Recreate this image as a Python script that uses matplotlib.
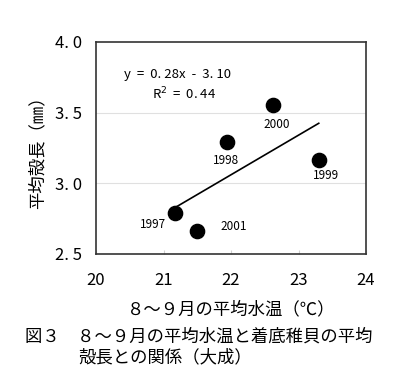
import matplotlib
matplotlib.use('Agg')
import matplotlib.pyplot as plt
import numpy as np

plt.rcParams['font.family'] = ['Noto Sans CJK JP', 'DejaVu Sans']

years = ['1997', '2001', '1998', '2000', '1999']
temp = [21.17, 21.49, 21.94, 22.62, 23.30]
shell = [2.79, 2.665, 3.29, 3.55, 3.165]
slope = 0.28
icpt = -3.10
xticks = [20, 21, 22, 23, 24]
yticks = [2.5, 3.0, 3.5, 4.0]
ytick_labels = ['2. 5', '3. 0', '3. 5', '4. 0']

# label offsets in points (dx, dy)
offs = {'1997': (-16, -8.5), '2001': (27, 2.7), '1998': (-1, -13),
        '2000': (3, -13.7), '1999': (5, -11)}

fig = plt.figure(figsize=(4, 3.67), dpi=100)
ax = fig.add_axes([0.24, 0.308, 0.675, 0.578])

for y in [3.0, 3.5]:
    ax.axhline(y, color='#e0e0e0', lw=0.8, zorder=0)

ax.scatter(temp, shell, s=105, color='black', zorder=3)
xl = np.array([min(temp), max(temp)])
ax.plot(xl, slope * xl + icpt, color='black', lw=1.2, zorder=2)

for yr, x, y in zip(years, temp, shell):
    dx, dy = offs[yr]
    ax.annotate(yr, (x, y), xytext=(dx, dy), textcoords='offset points',
                ha='center', va='center', fontsize=8.5)

fig.text(0.31, 0.796, 'y  =  0. 28x  -  3. 10', fontsize=9.5,
         ha='left', va='center')
fig.text(0.38, 0.744, 'R$^2$  =  0. 44', fontsize=9.5,
         ha='left', va='center')

ax.set_xlim(20, 24)
ax.set_ylim(2.5, 4.0)
ax.set_xticks(xticks)
ax.set_yticks(yticks)
ax.set_yticklabels(ytick_labels)
ax.tick_params(axis='x', direction='in', length=3, color='#d0d0d0',
               labelsize=12, pad=13)
ax.tick_params(axis='y', length=0, labelsize=12, pad=10)
for s in ax.spines.values():
    s.set_linewidth(1.2)
    s.set_color('#333333')

ax.set_ylabel('平均殻長（㎜）', fontsize=12.5, labelpad=6)
ax.set_xlabel('８～９月の平均水温（℃）', fontsize=12.5, labelpad=8)

fig.text(0.062, 0.082, '図３　８～９月の平均水温と着底稚貝の平均', fontsize=12.5,
         ha='left', va='center')
fig.text(0.195, 0.027, '殻長との関係（大成）', fontsize=12.5,
         ha='left', va='center')

fig.savefig('out.png', dpi=100)
